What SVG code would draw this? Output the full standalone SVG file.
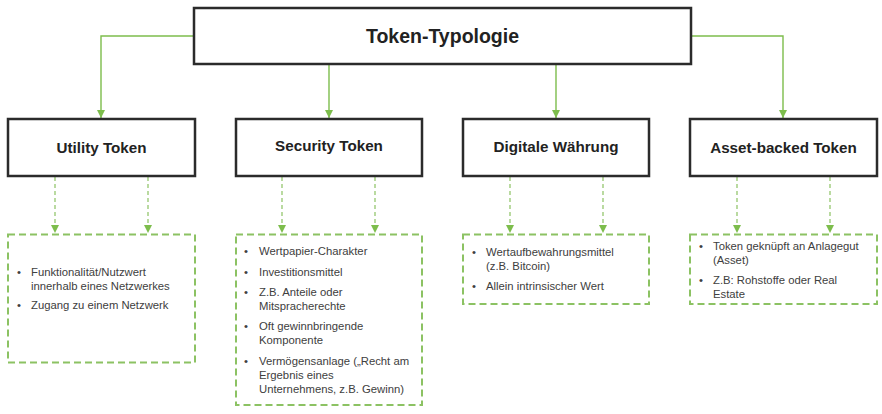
<svg xmlns="http://www.w3.org/2000/svg" width="882" height="414" viewBox="0 0 882 414">
<style>
.box{fill:#fff;stroke:#2b2b2b;stroke-width:2.5}
.dbox{fill:#fff;stroke:#8cc263;stroke-width:2;stroke-dasharray:7 4}
.con{fill:none;stroke:#7dbd4c;stroke-width:1.4}
.dcon{fill:none;stroke:#8cc263;stroke-width:1.2;stroke-dasharray:4 3}
.t1{font-family:"Liberation Sans",Arial,sans-serif;font-weight:bold;font-size:19.5px;fill:#222;text-anchor:middle}
.t2{font-family:"Liberation Sans",Arial,sans-serif;font-weight:bold;font-size:15.2px;fill:#222;text-anchor:middle}
.b{font-family:"Liberation Sans",Arial,sans-serif;font-size:11.3px;fill:#404040}
</style>
<defs>
<marker id="ah" viewBox="0 0 8 8" refX="8" refY="4" markerWidth="8" markerHeight="8" markerUnits="userSpaceOnUse" orient="auto">
<path d="M0,0 L8,4 L0,8 Z" fill="#7dbd4c"/>
</marker>
</defs>
<g id="connectors">
<path class="con" d="M194,36 H101 V118" marker-end="url(#ah)"/>
<path class="con" d="M329,64 V118" marker-end="url(#ah)"/>
<path class="con" d="M556,64 V118" marker-end="url(#ah)"/>
<path class="con" d="M691,36 H783 V118" marker-end="url(#ah)"/>
<path class="dcon" d="M55,177 V233" marker-end="url(#ah)"/>
<path class="dcon" d="M148,177 V233" marker-end="url(#ah)"/>
<path class="dcon" d="M282,177 V233" marker-end="url(#ah)"/>
<path class="dcon" d="M375,177 V233" marker-end="url(#ah)"/>
<path class="dcon" d="M510,177 V233" marker-end="url(#ah)"/>
<path class="dcon" d="M603,177 V233" marker-end="url(#ah)"/>
<path class="dcon" d="M737,177 V233" marker-end="url(#ah)"/>
<path class="dcon" d="M830,177 V233" marker-end="url(#ah)"/>
</g>
<g id="root">
<rect class="box" x="194" y="8" width="497" height="56"/>
<text class="t1" x="442.5" y="42.5">Token-Typologie</text>
</g>
<g id="utility">
<rect class="box" x="8" y="119" width="187" height="57"/>
<text class="t2" x="101.5" y="153">Utility Token</text>
</g>
<g id="security">
<rect class="box" x="236" y="119" width="186" height="57"/>
<text class="t2" x="329" y="151">Security Token</text>
</g>
<g id="digital">
<rect class="box" x="463" y="119" width="186" height="57"/>
<text class="t2" x="556" y="151.5">Digitale Währung</text>
</g>
<g id="asset">
<rect class="box" x="690" y="119" width="187" height="57"/>
<text class="t2" x="783.5" y="153">Asset-backed Token</text>
</g>
<g id="utility-details">
<rect class="dbox" x="8" y="234.5" width="187" height="128"/>
<text class="b" x="17" y="276">•</text>
<text class="b" x="31" y="276">Funktionalität/Nutzwert</text>
<text class="b" x="31" y="289.5">innerhalb eines Netzwerkes</text>
<text class="b" x="17" y="309">•</text>
<text class="b" x="31" y="309">Zugang zu einem Netzwerk</text>
</g>
<g id="security-details">
<rect class="dbox" x="236" y="234.5" width="186" height="170.5"/>
<text class="b" x="244" y="255">•</text>
<text class="b" x="259" y="255">Wertpapier-Charakter</text>
<text class="b" x="244" y="276">•</text>
<text class="b" x="259" y="276">Investitionsmittel</text>
<text class="b" x="244" y="296">•</text>
<text class="b" x="259" y="296">Z.B. Anteile oder</text>
<text class="b" x="259" y="310">Mitspracherechte</text>
<text class="b" x="244" y="330">•</text>
<text class="b" x="259" y="330">Oft gewinnbringende</text>
<text class="b" x="259" y="344">Komponente</text>
<text class="b" x="244" y="365">•</text>
<text class="b" x="259" y="365">Vermögensanlage („Recht am</text>
<text class="b" x="259" y="378.5">Ergebnis eines</text>
<text class="b" x="259" y="393">Unternehmens, z.B. Gewinn)</text>
</g>
<g id="digital-details">
<rect class="dbox" x="463" y="234.5" width="186" height="69.5"/>
<text class="b" x="472" y="256">•</text>
<text class="b" x="486" y="256">Wertaufbewahrungsmittel</text>
<text class="b" x="486" y="270">(z.B. Bitcoin)</text>
<text class="b" x="472" y="290">•</text>
<text class="b" x="486" y="290">Allein intrinsischer Wert</text>
</g>
<g id="asset-details">
<rect class="dbox" x="690" y="234.5" width="187" height="69.5"/>
<text class="b" x="699" y="249.5">•</text>
<text class="b" x="713" y="249.5">Token geknüpft an Anlagegut</text>
<text class="b" x="713" y="263.5">(Asset)</text>
<text class="b" x="699" y="284">•</text>
<text class="b" x="713" y="284">Z.B: Rohstoffe oder Real</text>
<text class="b" x="713" y="297.5">Estate</text>
</g>
</svg>
